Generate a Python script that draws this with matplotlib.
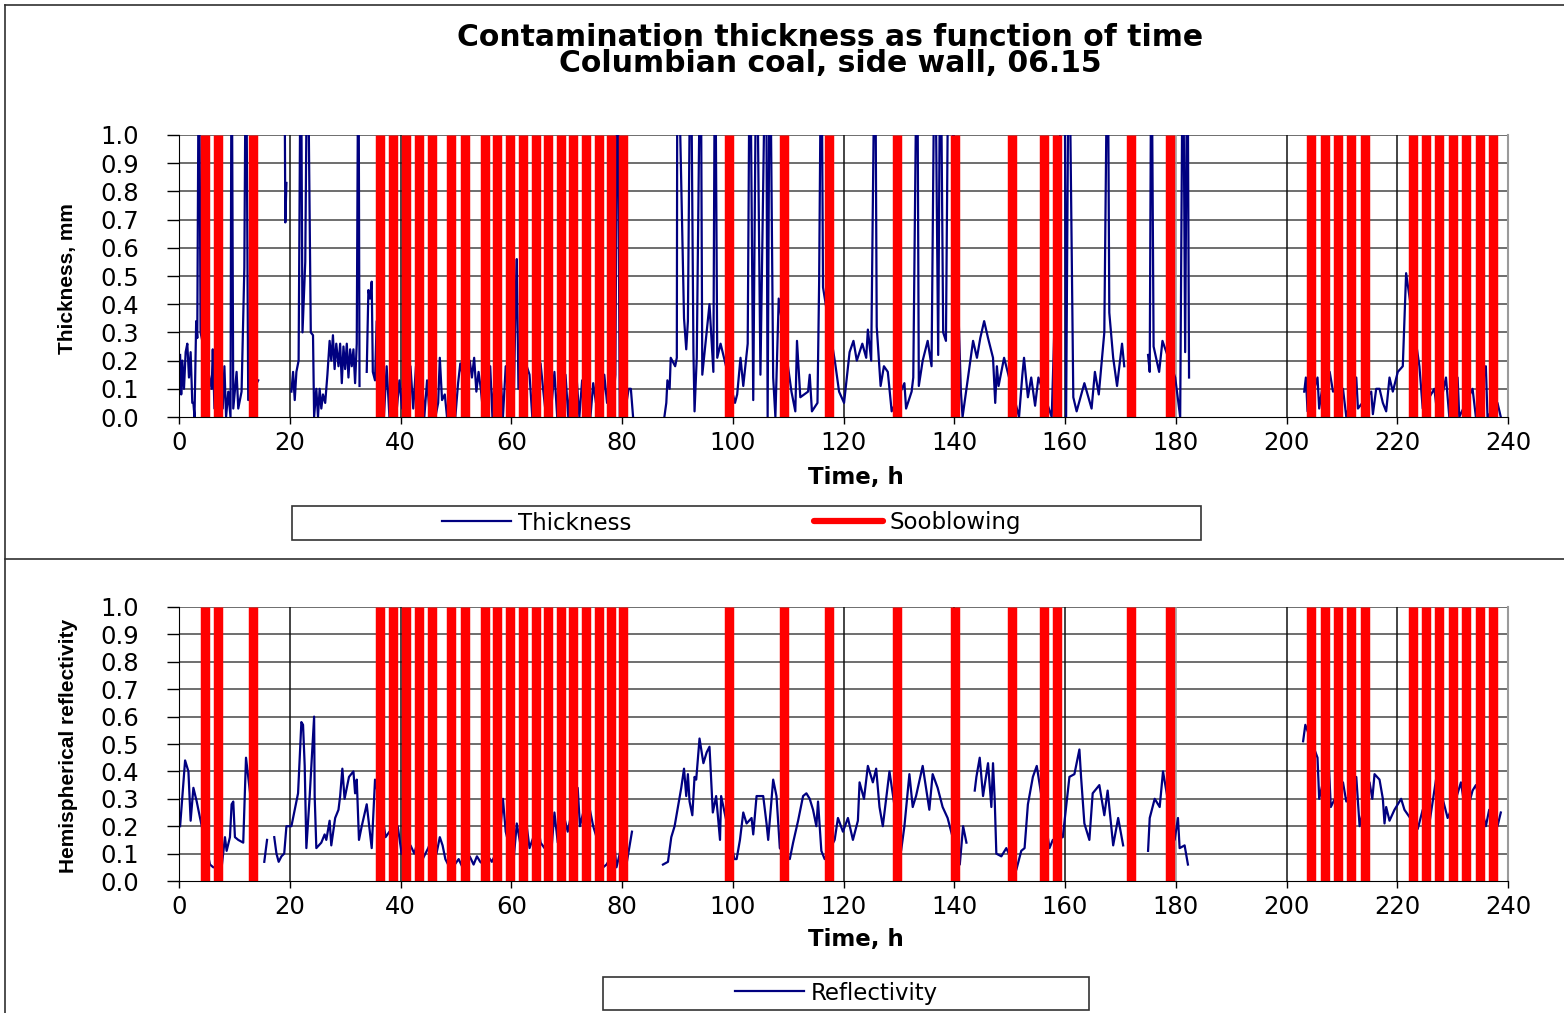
import numpy as np
import matplotlib
matplotlib.use("Agg")
import matplotlib.pyplot as plt
from matplotlib.lines import Line2D
from matplotlib.patches import Rectangle
from matplotlib import font_manager

nan = float("nan")

# ---------------- data ----------------
title_lines = ["Contamination thickness as function of time",
               "Columbian coal, side wall, 06.15"]
xlabel = "Time, h"
ylabel_top = "Thickness, mm"
ylabel_bottom = "Hemispherical reflectivity"
x_ticks = [0, 20, 40, 60, 80, 100, 120, 140, 160, 180, 200, 220, 240]
y_ticks = [0.0, 0.1, 0.2, 0.3, 0.4, 0.5, 0.6, 0.7, 0.8, 0.9, 1.0]
vgrid_hours = [20, 40, 120, 140, 160, 180, 200, 220]

# sootblowing events (h)
soot_time = [4.7, 7.0, 13.3, 36.3, 38.7, 41.0, 43.4, 45.7, 49.2, 51.7,
             55.2, 57.5, 59.8, 62.1, 64.4, 66.7, 69.0, 71.2, 73.5, 75.8,
             78.0, 80.2, 99.3, 109.3, 117.4, 129.7, 140.2, 150.5, 156.2, 158.5,
             172.0, 178.9, 204.5, 206.9, 209.3, 211.7, 214.2, 222.8, 225.2, 227.6,
             230.0, 232.4, 234.9, 237.3]

# thickness (mm), values above 1.0 run off the top of the axis
thickness_time = [
    0.2, 0.4, 0.6, 0.9, 1.2, 1.5, 1.8, 2.1, 2.4, 2.6,
    2.8, 3.1, 3.3, 3.6, 3.9, 5.9, 6.1, 6.4, 7.6, 7.9,
    8.2, 8.5, 8.9, 9.3, 9.5, 9.8, 10.4, 10.7, 11.3, 11.8,
    12.1, 12.5, 14.3, 14.5,
    19.0, 19.2, 19.4, 19.8,
    20.3, 20.6, 20.9, 21.2, 21.6, 22.0, 22.3, 22.8, 23.2, 23.8,
    24.2, 24.4, 24.8, 25.1, 25.4, 25.7, 26.0, 26.4, 26.8, 27.2,
    27.5, 27.8, 28.1, 28.4, 28.8, 29.1, 29.4, 29.7, 30.0, 30.3,
    30.6, 30.9, 31.2, 31.5, 31.8, 32.1, 32.4, 32.6, 33.2,
    33.9, 34.2, 34.5, 34.8, 35.0, 35.4, 35.7,
    36.5, 37.0, 37.5, 38.0, 38.6, 39.2, 39.8, 40.3, 40.8, 41.3,
    41.8, 42.3, 42.8, 43.3, 43.8, 44.3, 44.8, 45.3, 45.8, 46.3,
    46.8, 47.1, 47.5, 48.0, 48.4, 48.9, 49.4, 49.9, 50.4, 50.8,
    51.2, 51.6, 52.0, 52.5, 52.9, 53.3, 53.7, 54.1, 54.5, 55.0,
    55.4, 55.8, 56.2, 56.6, 57.1, 57.6, 58.0, 58.5, 59.0, 59.5,
    60.0, 60.4, 60.8, 61.0, 61.3, 61.8, 62.3, 62.8, 63.3, 63.8,
    64.3, 64.8, 65.3, 65.8, 66.3, 66.8, 67.3, 67.8, 68.3, 68.8,
    69.3, 69.8, 70.3, 70.8, 71.3, 71.8, 72.3, 72.8, 73.3, 73.8,
    74.3, 74.8, 75.3, 75.8, 76.3, 76.8, 77.3, 77.8, 78.3, 78.8,
    79.2, 79.6, 80.2, 80.8, 81.2, 81.6, 82.0, 84.0,
    87.65, 88.0, 88.2, 88.6, 88.8, 89.6, 89.9, 90.0, 91.2, 91.6,
    91.9, 92.4, 92.9, 93.1, 93.5, 94.2, 94.5, 95.8, 96.5, 96.8,
    97.2, 97.8, 100.4, 100.8, 101.4, 101.9, 102.7, 103.1, 103.7, 104.3,
    105.0, 106.0, 106.3, 106.7, 107.3, 107.7, 108.3, 110.6, 111.3, 111.6,
    112.2, 113.6, 113.9, 114.3, 115.3, 115.6, 116.0, 116.3, 118.5, 119.2,
    120.1, 121.1, 121.8, 122.4, 123.4, 124.1, 124.4, 125.0, 125.7, 126.0,
    126.7, 127.3, 128.0, 128.7, 131.0, 131.3, 132.3, 132.6, 133.3, 133.6,
    134.3, 135.2, 135.9, 136.5, 137.1, 137.5, 138.0, 138.5, 139.0, 141.2,
    141.5, 143.4, 144.1, 144.7, 145.4, 146.1, 147.0, 147.4, 147.7, 148.0,
    149.0, 151.7, 152.3, 152.6, 153.3, 153.9, 154.6, 155.2, 157.6, 159.9,
    160.2, 160.7, 161.5, 162.1, 163.5, 164.8, 165.4, 166.1, 166.7, 167.1,
    167.7, 168.0, 168.7, 169.4, 170.3, 170.7, 173.5,
    175.0, 175.3, 175.6, 176.0, 177.0, 177.6, 179.9, 180.8, 181.3, 181.7,
    182.1, 182.4, 190.0,
    203.2, 203.5, 203.8, 205.6, 205.9, 206.9, 207.8, 208.4, 210.2, 210.8,
    212.6, 212.9, 215.3, 215.6, 216.2, 216.8, 217.4, 218.0, 218.6, 219.2,
    220.1, 221.0, 221.6, 224.0, 224.6, 226.7, 227.3, 228.8, 229.4, 230.9,
    231.2, 233.6, 234.2, 236.0, 236.3, 238.1, 238.7]
thickness_mm = [
    0.22, 0.08, 0.20, 0.10, 0.23, 0.26, 0.14, 0.23, 0.05, 0.05,
    0.00, 0.34, 0.28, 1.50, 0.30, 0.10, 0.24, 0.03, 0.22, 0.03,
    0.18, 0.00, 0.09, 0.00, 1.50, 0.03, 0.16, 0.03, 0.09, 0.53,
    1.50, 0.06, 0.13, nan,
    1.50, 0.69, 0.83, nan,
    0.09, 0.16, 0.06, 0.16, 0.20, 1.50, 0.30, 0.55, 1.50, 0.30,
    0.29, 0.00, 0.10, 0.00, 0.10, 0.03, 0.08, 0.05, 0.15, 0.27,
    0.20, 0.29, 0.17, 0.26, 0.18, 0.26, 0.12, 0.25, 0.17, 0.26,
    0.14, 0.24, 0.18, 0.24, 0.12, 0.26, 1.50, 0.11, nan,
    0.16, 0.45, 0.42, 0.48, 0.16, 0.13, 0.34,
    0.10, 0.00, 0.18, 0.00, 0.13, 0.00, 0.13, 0.03, 0.13, 0.00,
    0.18, 0.03, 0.18, 0.02, 0.16, 0.00, 0.13, 0.00, 0.10, 0.00,
    0.05, 0.21, 0.06, 0.08, 0.00, 0.05, 0.10, 0.00, 0.12, 0.19,
    0.15, 0.00, 0.10, 0.20, 0.14, 0.21, 0.09, 0.16, 0.10, 0.00,
    0.18, 0.10, 0.18, 0.00, 0.18, 0.07, 0.18, 0.00, 0.18, 0.10,
    0.17, 0.00, 0.42, 0.56, 0.10, 0.16, 0.00, 0.18, 0.15, 0.00,
    0.18, 0.06, 0.19, 0.09, 0.00, 0.16, 0.05, 0.16, 0.00, 0.14,
    0.05, 0.15, 0.00, 0.14, 0.05, 0.14, 0.00, 0.13, 0.05, 0.18,
    0.00, 0.12, 0.05, 0.18, 0.00, 0.15, 0.05, 0.13, 0.02, 0.15,
    1.50, 0.00, 0.10, 0.05, 0.10, 0.10, 0.00, nan,
    0.00, 0.05, 0.13, 0.10, 0.21, 0.18, 0.21, 1.50, 0.35, 0.24,
    0.34, 1.50, 0.23, 0.02, 0.21, 1.50, 0.15, 0.40, 0.16, 1.50,
    0.21, 0.26, 0.05, 0.08, 0.21, 0.11, 0.26, 1.50, 0.06, 1.50,
    0.15, 1.50, 0.00, 1.50, 0.14, 0.00, 0.42, 0.09, 0.02, 0.27,
    0.07, 0.09, 0.15, 0.02, 0.05, 0.48, 1.50, 0.46, 0.19, 0.09,
    0.05, 0.23, 0.27, 0.20, 0.26, 0.21, 0.31, 0.20, 1.50, 0.32,
    0.11, 0.18, 0.16, 0.02, 0.12, 0.03, 0.09, 0.14, 1.50, 0.11,
    0.20, 0.27, 0.18, 1.50, 0.22, 1.50, 0.30, 0.27, 1.50, 0.09,
    0.00, 0.27, 0.21, 0.28, 0.34, 0.28, 0.21, 0.05, 0.18, 0.11,
    0.21, 0.00, 0.15, 0.21, 0.07, 0.14, 0.04, 0.14, 0.00, 1.50,
    0.00, 1.50, 0.07, 0.02, 0.12, 0.03, 0.16, 0.08, 0.21, 0.30,
    1.50, 0.37, 0.21, 0.11, 0.26, 0.18, nan,
    0.22, 0.16, 1.50, 0.25, 0.16, 0.27, 0.14, 0.00, 1.50, 0.23,
    1.50, 0.14, nan,
    0.09, 0.14, 0.02, 0.14, 0.03, 0.16, 0.16, 0.09, 0.10, 0.00,
    0.14, 0.03, 0.09, 0.01, 0.10, 0.10, 0.05, 0.02, 0.14, 0.09,
    0.16, 0.18, 0.51, 0.18, 0.03, 0.10, 0.00, 0.14, 0.00, 0.14,
    0.00, 0.10, 0.00, 0.18, 0.00, 0.05, 0.00]

# hemispherical reflectivity
reflect_time = [
    0.2, 1.1, 1.7, 2.1, 2.6, 3.2, 3.8, 5.6, 6.2, 7.7,
    8.3, 8.6, 9.2, 9.5, 9.8, 10.1, 10.7, 11.6, 12.1, 14.1, 14.8,
    15.4, 15.9, 16.5,
    17.2, 17.6, 18.0, 18.5, 19.0, 19.4, 20.3, 20.9, 21.5, 22.1,
    22.4, 22.7, 23.0, 23.6, 24.4, 24.5, 24.8, 25.7, 26.3, 26.6,
    27.2, 27.5, 28.2, 28.8, 29.1, 29.5, 29.9, 30.7, 31.5, 31.8,
    32.1, 32.5, 33.0, 33.9, 34.8, 35.4, 36.8, 37.3, 38.0, 39.5,
    40.2, 41.0, 41.8, 42.5, 43.3, 44.0, 45.0, 45.8, 46.5, 47.1,
    47.6, 48.1, 48.6, 49.2, 49.8, 50.5, 51.2, 51.8, 52.5, 53.2,
    53.8, 54.4, 55.0, 55.8, 56.5, 57.2, 57.8, 58.5, 59.0, 59.6,
    60.3, 61.0, 61.6, 62.2, 62.8, 63.3, 64.0, 64.7, 65.3, 66.0,
    66.6, 67.2, 67.8, 68.4, 69.0, 69.6, 70.2, 70.8, 71.4, 72.0,
    72.4, 73.0, 73.6, 74.2, 74.8, 75.4, 76.0, 76.6, 77.2, 77.8,
    78.5, 79.0, 79.6, 80.2, 80.8, 81.3, 81.8, 84.0,
    87.4, 88.3, 88.9, 89.5, 90.1, 90.7, 91.2, 91.6, 91.9, 92.2,
    92.7, 93.1, 93.4, 94.0, 94.7, 95.3, 95.8, 96.4, 97.0, 97.7,
    97.9, 100.3, 100.7, 101.3, 101.9, 102.5, 103.4, 103.7, 104.3, 105.5,
    106.1, 106.4, 107.3, 107.9, 108.5, 110.3, 110.9, 111.8, 112.7, 113.3,
    113.9, 114.5, 115.1, 115.4, 116.0, 116.6, 118.4, 119.0, 119.9, 120.8,
    121.7, 122.6, 122.9, 123.7, 124.4, 125.3, 125.9, 126.5, 127.1, 127.4,
    128.3, 130.4, 131.0, 131.9, 132.5, 133.1, 134.3, 134.9, 135.5, 136.1,
    137.0, 137.9, 138.8, 141.0, 141.6, 142.2, 143.0,
    143.7, 144.0, 144.6, 145.2, 146.1, 146.7, 147.0, 147.3, 147.6, 148.5,
    149.4, 151.2, 152.1, 152.7, 153.3, 154.2, 154.9, 157.2, 157.8, 159.6,
    160.2, 160.8, 161.7, 162.6, 162.9, 163.5, 164.4, 165.0, 166.2, 167.1,
    167.7, 168.7, 169.6, 170.5, 173.5,
    175.0, 175.3, 176.2, 177.1, 177.7, 179.8, 180.4, 180.7, 181.6, 182.2, 190.0,
    203.0, 203.4, 205.6, 205.9, 206.8, 207.7, 208.0, 210.2, 210.8, 212.6,
    213.2, 215.0, 215.5, 215.9, 216.8, 217.4, 217.7, 218.0, 218.6, 219.5,
    220.7, 221.3, 223.7, 224.6, 225.8, 227.0, 228.2, 229.1, 230.6, 231.5,
    232.4, 233.6, 234.2, 236.0, 236.6, 238.1, 238.7]
reflectivity = [
    0.20, 0.44, 0.40, 0.22, 0.34, 0.29, 0.23, 0.06, 0.05, 0.05,
    0.16, 0.11, 0.16, 0.28, 0.29, 0.16, 0.15, 0.14, 0.45, 0.10, nan,
    0.07, 0.15, nan,
    0.16, 0.10, 0.07, 0.09, 0.10, 0.20, 0.20, 0.26, 0.32, 0.58,
    0.57, 0.42, 0.12, 0.31, 0.60, 0.31, 0.12, 0.14, 0.17, 0.15,
    0.22, 0.13, 0.23, 0.26, 0.31, 0.41, 0.30, 0.38, 0.40, 0.32,
    0.37, 0.15, 0.20, 0.28, 0.12, 0.37, 0.23, 0.16, 0.18, 0.20,
    0.10, 0.09, 0.13, 0.10, 0.16, 0.08, 0.12, 0.16, 0.10, 0.16,
    0.13, 0.08, 0.06, 0.05, 0.06, 0.08, 0.05, 0.06, 0.09, 0.06,
    0.09, 0.07, 0.06, 0.09, 0.07, 0.10, 0.13, 0.30, 0.18, 0.13,
    0.05, 0.21, 0.14, 0.13, 0.20, 0.12, 0.16, 0.22, 0.14, 0.12,
    0.19, 0.10, 0.25, 0.14, 0.17, 0.23, 0.18, 0.24, 0.17, 0.34,
    0.20, 0.25, 0.17, 0.26, 0.20, 0.16, 0.08, 0.05, 0.06, 0.08,
    0.16, 0.05, 0.10, 0.16, 0.06, 0.12, 0.18, nan,
    0.06, 0.07, 0.16, 0.20, 0.27, 0.34, 0.41, 0.31, 0.39, 0.29,
    0.24, 0.38, 0.37, 0.52, 0.43, 0.47, 0.49, 0.25, 0.31, 0.15,
    0.31, 0.08, 0.08, 0.15, 0.25, 0.21, 0.23, 0.17, 0.31, 0.31,
    0.21, 0.15, 0.37, 0.31, 0.12, 0.08, 0.14, 0.22, 0.31, 0.32,
    0.30, 0.26, 0.20, 0.29, 0.11, 0.08, 0.15, 0.23, 0.18, 0.23,
    0.15, 0.22, 0.36, 0.30, 0.42, 0.36, 0.41, 0.27, 0.20, 0.25,
    0.40, 0.11, 0.20, 0.39, 0.27, 0.31, 0.42, 0.34, 0.26, 0.39,
    0.34, 0.27, 0.23, 0.06, 0.20, 0.14, nan,
    0.33, 0.38, 0.45, 0.31, 0.43, 0.27, 0.43, 0.30, 0.10, 0.09,
    0.12, 0.04, 0.11, 0.12, 0.28, 0.38, 0.42, 0.12, 0.15, 0.16,
    0.27, 0.38, 0.39, 0.48, 0.38, 0.21, 0.15, 0.32, 0.35, 0.24,
    0.33, 0.13, 0.23, 0.13, nan,
    0.11, 0.23, 0.30, 0.27, 0.40, 0.15, 0.23, 0.12, 0.13, 0.06, nan,
    0.51, 0.57, 0.45, 0.30, 0.38, 0.40, 0.27, 0.36, 0.29, 0.38,
    0.20, 0.36, 0.30, 0.39, 0.37, 0.30, 0.21, 0.27, 0.22, 0.26,
    0.30, 0.26, 0.19, 0.26, 0.21, 0.37, 0.30, 0.23, 0.30, 0.36,
    0.24, 0.33, 0.35, 0.20, 0.26, 0.20, 0.25]

# ---------------- style ----------------
W, H, DPI = 1564, 1013, 100
NAVY = "#000080"
RED = "#FF0000"
GRID = "#555555"

names = {f.name for f in font_manager.fontManager.ttflist}
if "Liberation Sans Narrow" in names:
    ylab_family, ylab_size = "Liberation Sans Narrow", 17.5
else:
    ylab_family, ylab_size = "Liberation Sans", 15
plt.rcParams["font.family"] = ["DejaVu Sans"]

fig = plt.figure(figsize=(W / DPI, H / DPI), dpi=DPI)
fig.patch.set_facecolor("white")


def fx(px):
    return px / W


def fy(py):
    return 1 - py / H


def make_axes(top_px, bottom_px, t, v, ylabel, label_y_px, xlabel_y_px):
    ax = fig.add_axes([fx(179), fy(bottom_px), fx(1508) - fx(179), fy(top_px) - fy(bottom_px)])
    ax.set_xlim(0, 240)
    ax.set_ylim(0, 1.0)
    ax.set_xticks(x_ticks)
    ax.set_yticks(y_ticks)
    ax.set_yticklabels([f"{y:.1f}" for y in y_ticks])
    for y in y_ticks[1:]:
        ax.axhline(y, color=GRID, lw=1.2, zorder=1)
    for xg in vgrid_hours:
        ax.axvline(xg, color="#111111" if xg != 180 else "#9a9a9a", lw=1.1, zorder=1)
    ax.plot(t, v, color=NAVY, lw=1.6, zorder=2, solid_joinstyle="round")
    ax.vlines(soot_time, 0, 1.0, colors=RED, lw=6.8, zorder=3)
    ax.spines["top"].set_visible(False)
    ax.spines["right"].set_color("#9a9a9a")
    ax.spines["right"].set_linewidth(1.5)
    ax.spines["left"].set_color("black")
    ax.spines["bottom"].set_color("black")
    ax.spines["left"].set_zorder(4)
    ax.spines["bottom"].set_zorder(4)
    ax.tick_params(axis="y", direction="out", length=9, width=1.0, pad=20,
                   labelsize=17.5, colors="black")
    ax.tick_params(axis="x", direction="out", length=5, width=1.0, pad=5,
                   labelsize=17.5, colors="black")
    fig.text(fx(68), fy(label_y_px), ylabel, rotation=90, ha="center", va="center",
             fontsize=ylab_size, fontweight="bold", family=[ylab_family, "DejaVu Sans"])
    fig.text(fx(856), fy(xlabel_y_px), xlabel, ha="center", va="center",
             fontsize=16.5, fontweight="bold")
    return ax


ax1 = make_axes(135, 417, thickness_time, thickness_mm, ylabel_top, 279, 477)
ax2 = make_axes(607, 881, reflect_time, reflectivity, ylabel_bottom, 746, 939)

# title
fig.text(fx(830), fy(37), title_lines[0], ha="center", va="center",
         fontsize=21.5, fontweight="bold")
fig.text(fx(830), fy(64), title_lines[1], ha="center", va="center",
         fontsize=21.5, fontweight="bold")

# outer frames
for (x0, y0, x1, y1) in [(5, 5, 1600, 5), (5, 5, 5, 1013), (5, 559, 1600, 559)]:
    fig.add_artist(Line2D([fx(x0), fx(x1)], [fy(y0), fy(y1)], color="#303030", lw=1.2))

# legend boxes
fig.add_artist(Rectangle((fx(292), fy(540)), fx(1201) - fx(292), fy(506) - fy(540),
                         fill=False, edgecolor="#333333", lw=1.2))
fig.add_artist(Rectangle((fx(603), fy(1010)), fx(1089) - fx(603), fy(977) - fy(1010),
                         fill=False, edgecolor="#333333", lw=1.2))

h_thick = Line2D([], [], color=NAVY, lw=1.6)
h_soot = Line2D([], [], color=RED, lw=4.5, solid_capstyle="round")
fig.legend([h_thick, h_soot], ["Thickness", "Sooblowing"], loc="center left",
           bbox_to_anchor=(fx(442), fy(523)), ncol=2, frameon=False,
           borderpad=0, borderaxespad=0,
           fontsize=16.5, handlelength=3.0, handletextpad=0.3, columnspacing=8.0)
h_refl = Line2D([], [], color=NAVY, lw=1.6)
fig.legend([h_refl], ["Reflectivity"], loc="center left",
           bbox_to_anchor=(fx(735), fy(993)), ncol=1, frameon=False,
           borderpad=0, borderaxespad=0,
           fontsize=16.5, handlelength=3.0, handletextpad=0.3)

fig.savefig("out.png", dpi=DPI, facecolor="white")
